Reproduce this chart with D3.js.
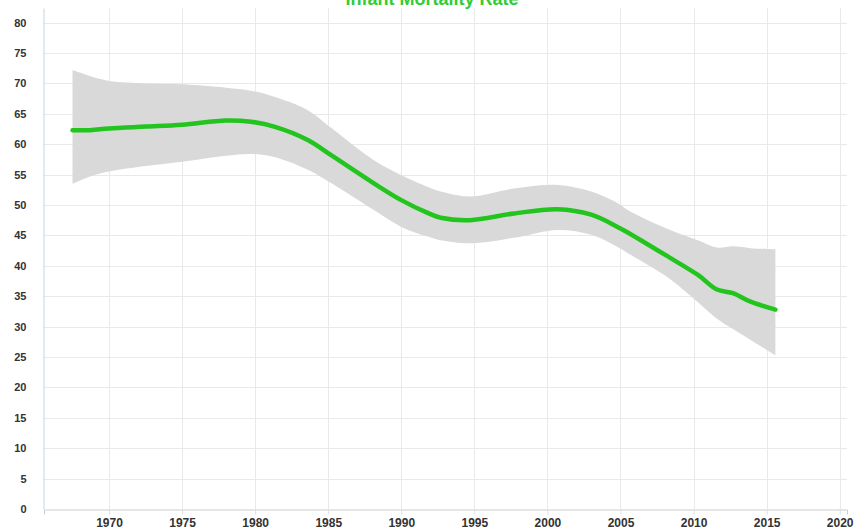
<!DOCTYPE html>
<head>
<title>Infant Mortality Rate</title>
<meta charset="utf-8">
<style>
body { margin: 0; background: #fff; }
svg { display: block; font-family: "Liberation Sans", Arial, sans-serif; }
.grid line { stroke: #e9e9e9; stroke-width: 1; }
.band { fill: #d9d9d9; }
.trend { fill: none; stroke: #22c41e; stroke-width: 4.5; stroke-linecap: round; stroke-linejoin: round; }
.tick-label { font-size: 11px; font-weight: bold; fill: #333; }
.title { font-size: 18px; font-weight: bold; fill: #33cc33; }
</style>
</head>
<body>
<div id="chart"></div>

<script src="https://d3js.org/d3.v7.min.js"></script>
<script>

// Data
var years = [1967.5, 1968.7, 1970, 1972.5, 1975, 1978, 1979.7, 1981.3, 1983.6, 1985.2, 1988.1, 1990,
             1991.8, 1992.7, 1994.7, 1997.7, 2000.7, 2003, 2004.8, 2005.7, 2008.4, 2010.3, 2011.6,
             2012.7, 2013.9, 2015.6];
var rate  = [62.3, 62.3, 62.6, 62.9, 63.2, 63.9, 63.7, 62.9, 60.7, 58.2, 53.6, 50.8,
             48.7, 47.9, 47.5, 48.6, 49.3, 48.4, 46.4, 45.2, 41.3, 38.5, 36.1,
             35.5, 34.1, 32.8];
var upper = [72.2, 71.2, 70.4, 70.0, 69.85, 69.3, 68.8, 67.8, 65.6, 62.7, 57.4, 54.9,
             53.0, 52.2, 51.4, 52.7, 53.3, 52.2, 50.3, 48.9, 45.9, 44.2, 43.0,
             43.2, 42.9, 42.7];
var lower = [53.5, 54.7, 55.5, 56.4, 57.1, 58.1, 58.4, 57.9, 55.8, 53.6, 49.2, 46.4,
             44.8, 44.2, 43.7, 44.6, 45.9, 45.1, 43.1, 41.8, 37.8, 34.0, 31.3,
             29.6, 27.8, 25.3];
var xTicks = [1970, 1975, 1980, 1985, 1990, 1995, 2000, 2005, 2010, 2015, 2020];
var yTicks = [0, 5, 10, 15, 20, 25, 30, 35, 40, 45, 50, 55, 60, 65, 70, 75, 80];
var titleText = "Infant Mortality Rate";

var width = 857, height = 528;
var plot = { left: 44, right: 847, top: 8, bottom: 509 };

var data = years.map(function(y, i) {
  return { year: y, rate: rate[i], hi: upper[i], lo: lower[i] };
});

// Scales
var x = d3.scaleLinear().domain([1965.55, 2020.5]).range([plot.left, plot.right]);
var y = d3.scaleLinear().domain([0, 82.4]).range([plot.bottom, plot.top]);

var svg = d3.select("#chart").append("svg")
    .attr("width", width)
    .attr("height", height);

// Grid lines
var grid = svg.append("g").attr("class", "grid");
grid.selectAll(".vline")
    .data(xTicks)
  .enter().append("line")
    .attr("x1", function(d) { return Math.round(x(d)) + 0.5; })
    .attr("x2", function(d) { return Math.round(x(d)) + 0.5; })
    .attr("y1", plot.top)
    .attr("y2", plot.bottom);
grid.selectAll(".hline")
    .data(yTicks.filter(function(d) { return d > 0; }))
  .enter().append("line")
    .attr("x1", plot.left)
    .attr("x2", plot.right)
    .attr("y1", function(d) { return Math.round(y(d)) + 0.5; })
    .attr("y2", function(d) { return Math.round(y(d)) + 0.5; });

// Confidence band
var area = d3.area()
    .x(function(d) { return x(d.year); })
    .y0(function(d) { return y(d.lo); })
    .y1(function(d) { return y(d.hi); })
    .curve(d3.curveCatmullRom.alpha(0.5));
svg.append("path")
    .datum(data)
    .attr("class", "band")
    .attr("d", area);

// Trend line
var line = d3.line()
    .x(function(d) { return x(d.year); })
    .y(function(d) { return y(d.rate); })
    .curve(d3.curveCatmullRom.alpha(0.5));
svg.append("path")
    .datum(data)
    .attr("class", "trend")
    .attr("d", line);

// X axis
var xAxis = svg.append("g")
    .attr("transform", "translate(0," + (plot.bottom + 0.5) + ")")
    .call(d3.axisBottom(x).tickValues(xTicks).tickSize(5).tickFormat(d3.format("d")));
xAxis.select(".domain").attr("stroke", "#cccccc");
xAxis.selectAll(".tick line").attr("stroke", "#dddddd");
xAxis.selectAll(".tick text")
    .attr("class", "tick-label")
    .style("font-size", "12px")
    .attr("y", 17)
    .attr("dy", 0);

// Y axis
var yAxis = svg.append("g")
    .attr("transform", "translate(" + (plot.left - 0.5) + ",0)")
    .call(d3.axisLeft(y).tickValues(yTicks).tickSize(0).tickPadding(17));
yAxis.select(".domain").attr("stroke", "#c6d3e6");
yAxis.selectAll(".tick text").attr("class", "tick-label");

// Title
svg.append("text")
    .attr("class", "title")
    .attr("x", 432)
    .attr("y", 5)
    .attr("text-anchor", "middle")
    .text(titleText);

</script>
</body>
</html>
